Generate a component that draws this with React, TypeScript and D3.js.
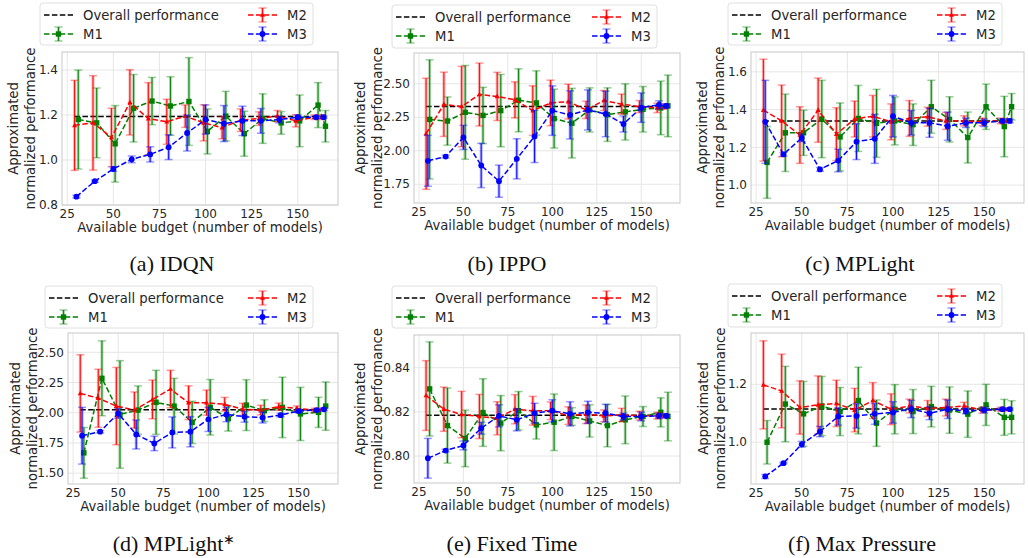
import React from "react";
import * as d3 from "d3";

// Budgets (number of models); M2 drawn at b-1, M3 at b, M1 at b+1
const budgets = [30, 40, 50, 60, 70, 80, 90, 100, 110, 120, 130, 140, 150, 160, 164];
const seriesNames = ["M1", "M2", "M3"];
const seriesColors = ["#008000", "#ff0000", "#0000ff"];
const seriesOffsets = [1, -1, 0];

// (a) IDQN
const idqnM1 = [1.18, 1.165, 1.072, 1.23, 1.262, 1.24, 1.26, 1.127, 1.195, 1.117, 1.184, 1.165, 1.174, 1.244, 1.15];
const idqnM1Err = [0.22, 0.155, 0.17, 0.15, 0.105, 0.13, 0.195, 0.1, 0.11, 0.1, 0.11, 0.05, 0.115, 0.1, 0.07];
const idqnM2 = [1.154, 1.165, 1.1, 1.256, 1.184, 1.17, 1.195, 1.165, 1.144, 1.177, 1.184, 1.195, 1.174, 1.19, 1.19];
const idqnM2Err = [0.2, 0.21, 0.13, 0.145, 0.16, 0.1, 0.05, 0.08, 0.05, 0.05, 0.03, 0.025, 0.027, 0.01, 0.01];
const idqnM3 = [0.837, 0.906, 0.96, 1.003, 1.025, 1.057, 1.12, 1.18, 1.162, 1.174, 1.174, 1.18, 1.19, 1.19, 1.19];
const idqnM3Err = [0.006, 0.005, 0.01, 0.015, 0.034, 0.055, 0.08, 0.065, 0.08, 0.065, 0.055, 0.015, 0.01, 0.005, 0.005];
const idqnOverall = 1.193;

// (b) IPPO
const ippoM1 = [2.234, 2.222, 2.287, 2.264, 2.3, 2.377, 2.357, 2.24, 2.206, 2.305, 2.27, 2.29, 2.31, 2.32, 2.335];
const ippoM1Err = [0.445, 0.18, 0.35, 0.21, 0.27, 0.235, 0.24, 0.22, 0.26, 0.165, 0.2, 0.21, 0.17, 0.2, 0.23];
const ippoM2 = [2.127, 2.347, 2.33, 2.42, 2.406, 2.38, 2.3, 2.357, 2.367, 2.305, 2.375, 2.348, 2.33, 2.32, 2.33];
const ippoM2Err = [0.415, 0.24, 0.3, 0.235, 0.18, 0.135, 0.185, 0.17, 0.13, 0.065, 0.075, 0.075, 0.045, 0.035, 0.02];
const ippoM3 = [1.925, 1.957, 2.1, 1.89, 1.773, 1.94, 2.107, 2.3, 2.268, 2.305, 2.275, 2.2, 2.322, 2.343, 2.335];
const ippoM3Err = [0.19, 0.01, 0.09, 0.165, 0.12, 0.15, 0.195, 0.185, 0.18, 0.15, 0.17, 0.06, 0.11, 0.03, 0.015];
const ippoOverall = 2.33;

// (c) MPLight
const mplM1 = [1.12, 1.277, 1.277, 1.35, 1.255, 1.353, 1.327, 1.34, 1.32, 1.415, 1.348, 1.252, 1.415, 1.31, 1.415];
const mplM1Err = [0.19, 0.205, 0.12, 0.205, 0.18, 0.175, 0.18, 0.127, 0.11, 0.14, 0.12, 0.135, 0.12, 0.16, 0.07];
const mplM2 = [1.397, 1.34, 1.265, 1.397, 1.27, 1.35, 1.365, 1.335, 1.353, 1.362, 1.34, 1.34, 1.335, 1.34, 1.34];
const mplM2Err = [0.27, 0.19, 0.15, 0.17, 0.14, 0.095, 0.11, 0.095, 0.095, 0.05, 0.045, 0.027, 0.02, 0.015, 0.01];
const mplM3 = [1.335, 1.163, 1.25, 1.083, 1.13, 1.23, 1.245, 1.365, 1.33, 1.33, 1.312, 1.33, 1.33, 1.34, 1.34];
const mplM3Err = [0.22, 0.01, 0.02, 0.01, 0.06, 0.095, 0.13, 0.11, 0.065, 0.077, 0.075, 0.025, 0.02, 0.01, 0.01];
const mplOverall = 1.34;

// (d) MPLight*
const mplsM1 = [1.668, 2.285, 1.986, 2.022, 2.086, 2.055, 1.92, 2.045, 1.953, 2.063, 2.017, 2.044, 1.99, 2.003, 2.055];
const mplsM1Err = [0.21, 0.31, 0.445, 0.2, 0.265, 0.23, 0.175, 0.23, 0.105, 0.21, 0.09, 0.25, 0.22, 0.125, 0.2];
const mplsM2 = [2.16, 2.12, 2.055, 2.022, 2.11, 2.196, 2.083, 2.083, 2.07, 2.028, 2.022, 2.05, 2.036, 2.022, 2.028];
const mplsM2Err = [0.32, 0.24, 0.32, 0.15, 0.16, 0.155, 0.14, 0.105, 0.057, 0.05, 0.04, 0.03, 0.02, 0.015, 0.01];
const mplsM3 = [1.81, 1.843, 1.995, 1.82, 1.746, 1.837, 1.843, 1.945, 1.986, 1.967, 1.96, 1.98, 2.014, 2.022, 2.028];
const mplsM3Err = [0.235, 0.01, 0.04, 0.12, 0.06, 0.128, 0.125, 0.1, 0.06, 0.045, 0.045, 0.015, 0.015, 0.01, 0.01];
const mplsOverall = 2.025;

// (e) Fixed Time
const ftM1 = [0.8304, 0.8138, 0.808, 0.8197, 0.8149, 0.8205, 0.8141, 0.8153, 0.8179, 0.8159, 0.8138, 0.8164, 0.8179, 0.8198, 0.8179];
const ftM1Err = [0.0213, 0.017, 0.0128, 0.0153, 0.0125, 0.0087, 0.0064, 0.0128, 0.004, 0.0073, 0.0096, 0.0108, 0.0045, 0.0066, 0.011];
const ftM2 = [0.8274, 0.8212, 0.8188, 0.8179, 0.8171, 0.8212, 0.8205, 0.8205, 0.8183, 0.8189, 0.8182, 0.8186, 0.8183, 0.8183, 0.8182];
const ftM2Err = [0.0158, 0.01, 0.0105, 0.01, 0.0075, 0.0066, 0.0065, 0.004, 0.004, 0.0042, 0.0027, 0.003, 0.002, 0.0015, 0.001];
const ftM3 = [0.799, 0.8025, 0.8048, 0.8126, 0.8182, 0.8164, 0.8194, 0.8205, 0.8191, 0.8198, 0.8194, 0.8179, 0.8179, 0.8182, 0.8182];
const ftM3Err = [0.009, 0.0006, 0.002, 0.0027, 0.005, 0.005, 0.0045, 0.005, 0.0055, 0.005, 0.004, 0.0015, 0.002, 0.0012, 0.0008];
const ftOverall = 0.8185;

// (f) Max Pressure
const mpM1 = [1.0, 1.132, 1.098, 1.125, 1.106, 1.144, 1.066, 1.114, 1.106, 1.123, 1.111, 1.097, 1.129, 1.086, 1.086];
const mpM1Err = [0.075, 0.13, 0.112, 0.102, 0.083, 0.115, 0.08, 0.085, 0.076, 0.07, 0.08, 0.08, 0.071, 0.062, 0.057];
const mpM2 = [1.198, 1.177, 1.12, 1.129, 1.134, 1.111, 1.144, 1.114, 1.125, 1.117, 1.12, 1.125, 1.111, 1.114, 1.114];
const mpM2Err = [0.152, 0.127, 0.092, 0.1, 0.08, 0.075, 0.062, 0.053, 0.024, 0.027, 0.029, 0.013, 0.01, 0.007, 0.005];
const mpM3 = [0.882, 0.928, 0.993, 1.037, 1.089, 1.091, 1.098, 1.103, 1.115, 1.1, 1.114, 1.108, 1.111, 1.114, 1.114];
const mpM3Err = [0.007, 0.003, 0.01, 0.018, 0.03, 0.042, 0.036, 0.037, 0.03, 0.022, 0.032, 0.01, 0.01, 0.005, 0.004];
const mpOverall = 1.115;

const xTicks = [25, 50, 75, 100, 125, 150];
const xDomain = [22.2, 171.8];

const panels = [
  { caption: "(a) IDQN", star: false, vals: [idqnM1, idqnM2, idqnM3], errs: [idqnM1Err, idqnM2Err, idqnM3Err], overall: idqnOverall,
    yDomain: [0.8, 1.48], yTicks: [0.8, 1.0, 1.2, 1.4], fmt: ".1f",
    box: { x: 62, y: 52, w: 276, h: 153 }, leg: { x: 40, y: 3, w: 273, h: 42 }, ylabX: 13.5, cap: { x: 172, y: 263 } },
  { caption: "(b) IPPO", star: false, vals: [ippoM1, ippoM2, ippoM3], errs: [ippoM1Err, ippoM2Err, ippoM3Err], overall: ippoOverall,
    yDomain: [1.61, 2.73], yTicks: [1.75, 2.0, 2.25, 2.5], fmt: ".2f",
    box: { x: 414, y: 53, w: 266, h: 150 }, leg: { x: 392, y: 5, w: 265, h: 43 }, ylabX: 360, cap: { x: 507, y: 263 } },
  { caption: "(c) MPLight", star: false, vals: [mplM1, mplM2, mplM3], errs: [mplM1Err, mplM2Err, mplM3Err], overall: mplOverall,
    yDomain: [0.905, 1.705], yTicks: [1.0, 1.2, 1.4, 1.6], fmt: ".1f",
    box: { x: 751, y: 52, w: 273, h: 151 }, leg: { x: 728, y: 3, w: 274, h: 42 }, ylabX: 702, cap: { x: 860, y: 263 } },
  { caption: "(d) MPLight", star: true, vals: [mplsM1, mplsM2, mplsM3], errs: [mplsM1Err, mplsM2Err, mplsM3Err], overall: mplsOverall,
    yDomain: [1.41, 2.66], yTicks: [1.5, 1.75, 2.0, 2.25, 2.5], fmt: ".2f",
    box: { x: 68, y: 333, w: 270, h: 151 }, leg: { x: 45, y: 286, w: 268, h: 42 }, ylabX: 15, cap: { x: 174, y: 543 } },
  { caption: "(e) Fixed Time", star: false, vals: [ftM1, ftM2, ftM3], errs: [ftM1Err, ftM2Err, ftM3Err], overall: ftOverall,
    yDomain: [0.7878, 0.8548], yTicks: [0.8, 0.82, 0.84], fmt: ".2f",
    box: { x: 414, y: 335, w: 266, h: 148 }, leg: { x: 392, y: 286, w: 265, h: 42 }, ylabX: 360, cap: { x: 512, y: 543 } },
  { caption: "(f) Max Pressure", star: false, vals: [mpM1, mpM2, mpM3], errs: [mpM1Err, mpM2Err, mpM3Err], overall: mpOverall,
    yDomain: [0.856, 1.377], yTicks: [1.0, 1.2], fmt: ".1f",
    box: { x: 751, y: 333, w: 273, h: 151 }, leg: { x: 728, y: 284, w: 274, h: 43 }, ylabX: 703, cap: { x: 862, y: 543 } },
];

const FONT = "DejaVu Sans, sans-serif";
const TXT = "#262626";

function Marker({ i, x, y, color }: { i: number; x: number; y: number; color: string }) {
  if (i === 0) return <rect x={x - 2.7} y={y - 2.7} width={5.4} height={5.4} fill={color} />;
  if (i === 1) return <path d={`M${x},${y - 2.8}L${x + 2.5},${y + 1.8}L${x - 2.5},${y + 1.8}Z`} fill={color} />;
  return <circle cx={x} cy={y} r={2.9} fill={color} />;
}

function ErrBar({ x, y0, y1, color }: { x: number; y0: number; y1: number; color: string }) {
  return (
    <g>
      <line x1={x} x2={x} y1={y0} y2={y1} stroke={color} strokeWidth={3} strokeOpacity={0.3} />
      <line x1={x} x2={x} y1={y0} y2={y1} stroke={color} strokeWidth={1.1} strokeOpacity={0.9} />
      <line x1={x - 4} x2={x + 4} y1={y0} y2={y0} stroke={color} strokeWidth={1.5} strokeOpacity={0.4} />
      <line x1={x - 4} x2={x + 4} y1={y1} y2={y1} stroke={color} strokeWidth={1.5} strokeOpacity={0.4} />
    </g>
  );
}

function Panel({ p }: { p: any }) {
  const { box } = p;
  const x = d3.scaleLinear().domain(xDomain).range([0, box.w]);
  const y = d3.scaleLinear().domain(p.yDomain).range([box.h, 0]);
  const fmt = d3.format(p.fmt);
  const xs = (si: number) => budgets.map((b) => b + seriesOffsets[si]);
  const allX = seriesOffsets.flatMap((o) => budgets.map((b) => b + o));
  const xMin = d3.min(allX) as number;
  const xMax = d3.max(allX) as number;
  const line = d3.line<[number, number]>().x((d) => x(d[0])).y((d) => y(d[1]));
  const leg = p.leg;
  const col2 = leg.w - 65;
  return (
    <g>
      <g transform={`translate(${box.x},${box.y})`}>
        {xTicks.map((t) => (
          <line key={"gx" + t} x1={x(t)} x2={x(t)} y1={0} y2={box.h} stroke="#e6e6e6" strokeWidth={1} />
        ))}
        {p.yTicks.map((t: number) => (
          <line key={"gy" + t} x1={0} x2={box.w} y1={y(t)} y2={y(t)} stroke="#e6e6e6" strokeWidth={1} />
        ))}
        <rect x={0} y={0} width={box.w} height={box.h} fill="none" stroke="#c8c8c8" strokeWidth={1} />
        <line x1={x(xMin)} x2={x(xMax)} y1={y(p.overall)} y2={y(p.overall)} stroke="#000" strokeWidth={1.5} strokeDasharray="5.5,2.4" />
        {p.vals.map((vals: number[], si: number) => {
          const sx = xs(si);
          const color = seriesColors[si];
          const pts = sx.map((xx, k) => [xx, vals[k]] as [number, number]);
          return (
            <g key={si}>
              {pts.map((d, k) => (
                <ErrBar key={k} x={x(d[0])} y0={y(d[1] + p.errs[si][k])} y1={y(d[1] - p.errs[si][k])} color={color} />
              ))}
              <path d={line(pts) as string} fill="none" stroke={color} strokeWidth={1.5} strokeDasharray="5.5,2.4" />
              {pts.map((d, k) => (
                <Marker key={"m" + k} i={si} x={x(d[0])} y={y(d[1])} color={color} />
              ))}
            </g>
          );
        })}
        {xTicks.map((t) => (
          <text key={"tx" + t} x={x(t)} y={box.h + 13} textAnchor="middle" fontSize={12} fill={TXT} fontFamily={FONT}>
            {t}
          </text>
        ))}
        {p.yTicks.map((t: number) => (
          <text key={"ty" + t} x={-4} y={y(t)} dy="0.35em" textAnchor="end" fontSize={12} fill={TXT} fontFamily={FONT}>
            {fmt(t)}
          </text>
        ))}
        <text x={box.w / 2} y={box.h + 27} textAnchor="middle" fontSize={13.2} fill={TXT} fontFamily={FONT}>
          Available budget (number of models)
        </text>
      </g>
      <g fontFamily={FONT} fontSize={13.2} fill={TXT}>
        <text transform={`translate(${p.ylabX},${box.y + box.h / 2}) rotate(-90)`} textAnchor="middle" dy="0.35em">
          Approximated
        </text>
        <text transform={`translate(${p.ylabX + 17},${box.y + box.h / 2}) rotate(-90)`} textAnchor="middle" dy="0.35em">
          normalized performance
        </text>
      </g>
      <g transform={`translate(${leg.x},${leg.y})`} fontFamily={FONT} fontSize={13.2} fill={TXT}>
        <rect x={0} y={0} width={leg.w} height={leg.h} rx={3} fill="#fff" fillOpacity={0.8} stroke="#e0e0e0" strokeWidth={1} />
        <line x1={4} x2={33} y1={12} y2={12} stroke="#000" strokeWidth={1.5} strokeDasharray="5.5,2.4" />
        <text x={43} y={12} dy="0.35em">Overall performance</text>
        {[0, 1, 2].map((si) => {
          const hx = si === 0 ? 4 : col2;
          const hy = si === 1 ? 12 : 31;
          const color = seriesColors[si];
          return (
            <g key={si}>
              <ErrBar x={hx + 14.5} y0={hy - 7} y1={hy + 7} color={color} />
              <line x1={hx} x2={hx + 29} y1={hy} y2={hy} stroke={color} strokeWidth={1.5} strokeDasharray="5.5,2.4" />
              <Marker i={si} x={hx + 14.5} y={hy} color={color} />
              <text x={hx + 39} y={hy} dy="0.35em">{seriesNames[si]}</text>
            </g>
          );
        })}
      </g>
      <text x={p.cap.x} y={p.cap.y} dy="0.35em" textAnchor="middle" fontFamily="Liberation Serif, Times New Roman, serif" fontSize={22} fill="#111">
        {p.caption}
        {p.star ? <tspan dy="-0.45em" fontSize={14}>∗</tspan> : null}
      </text>
    </g>
  );
}

export default function App() {
  return (
    <svg width={1028} height={558} style={{ position: "absolute", left: 0, top: 0, background: "#fff" }}>
      {panels.map((p, i) => (
        <Panel key={i} p={p} />
      ))}
    </svg>
  );
}
